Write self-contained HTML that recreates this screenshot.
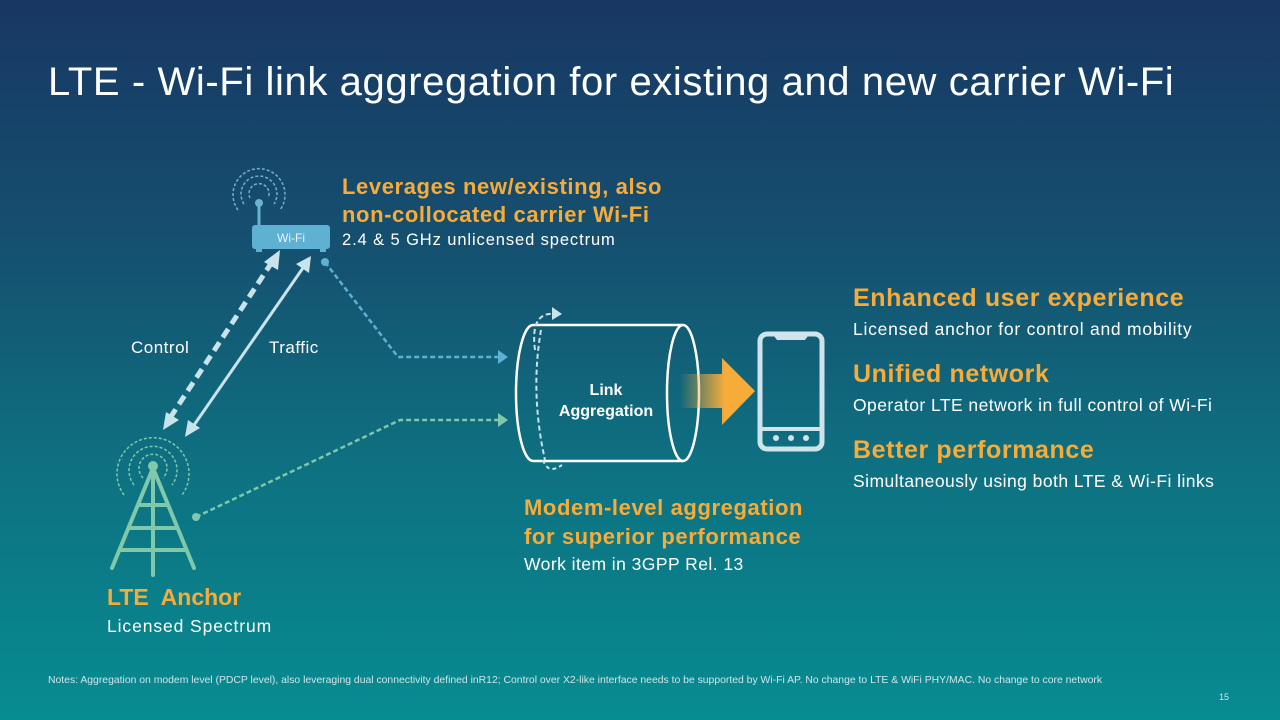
<!DOCTYPE html>
<html><head><meta charset="utf-8"><style>
html,body{margin:0;padding:0}
body{width:1280px;height:720px;overflow:hidden;background:linear-gradient(180deg,#183763 0%,#155170 35%,#0e7181 65%,#078c91 100%);font-family:"Liberation Sans",sans-serif;color:#fff;position:relative}
.t{position:absolute;white-space:nowrap}
.h{color:#f7ac3a;font-weight:bold}
.s{font-size:17.5px;letter-spacing:0.45px}
</style></head><body>
<div class="t" style="left:48px;top:60px;font-size:40px;letter-spacing:0.6px">LTE - Wi-Fi link aggregation for existing and new carrier Wi-Fi</div>

<div class="t h" style="left:342px;top:173px;font-size:22px;line-height:28px;letter-spacing:0.6px">Leverages new/existing, also<br>non-collocated carrier Wi-Fi</div>
<div class="t" style="left:342px;top:231px;font-size:16.5px;letter-spacing:0.9px">2.4 &amp; 5 GHz unlicensed spectrum</div>

<div class="t" style="left:131px;top:338px;font-size:17px;letter-spacing:0.5px">Control</div>
<div class="t" style="left:269px;top:338px;font-size:17px;letter-spacing:0.5px">Traffic</div>

<div class="t h" style="left:107px;top:584px;font-size:23px">LTE&nbsp; Anchor</div>
<div class="t s" style="left:107px;top:616px;letter-spacing:0.9px">Licensed Spectrum</div>

<div class="t h" style="left:524px;top:493px;font-size:22px;line-height:29px;letter-spacing:0.6px">Modem-level aggregation<br>for superior performance</div>
<div class="t s" style="left:524px;top:554px">Work item in 3GPP Rel. 13</div>

<div class="t h" style="left:853px;top:284px;font-size:25px;letter-spacing:0.6px">Enhanced user experience</div>
<div class="t s" style="left:853px;top:319px;letter-spacing:0.75px">Licensed anchor for control and mobility</div>
<div class="t h" style="left:853px;top:360px;font-size:25px;letter-spacing:0.6px">Unified network</div>
<div class="t s" style="left:853px;top:395px">Operator LTE network in full control of Wi-Fi</div>
<div class="t h" style="left:853px;top:436px;font-size:25px;letter-spacing:0.6px">Better performance</div>
<div class="t s" style="left:853px;top:471px">Simultaneously using both LTE &amp; Wi-Fi links</div>

<div class="t" style="left:48px;top:675px;font-size:10.4px;color:#cfe6e8">Notes: Aggregation on modem level (PDCP level), also leveraging dual connectivity defined inR12; Control over X2-like interface needs to be supported by Wi-Fi AP. No change to LTE &amp; WiFi PHY/MAC. No change to core network</div>
<div class="t" style="left:1219px;top:692px;font-size:9px;color:#cfe6e8">15</div>

<svg width="1280" height="720" style="position:absolute;left:0;top:0" xmlns="http://www.w3.org/2000/svg">
<defs>
<linearGradient id="og" x1="0" x2="1"><stop offset="0" stop-color="#f7ac3a" stop-opacity="0"/><stop offset="0.6" stop-color="#f7ac3a"/><stop offset="1" stop-color="#f7ac3a"/></linearGradient>
</defs>
<g fill="none" stroke="#6ab4d3" stroke-width="1.5" stroke-dasharray="3,2">
<path d="M250 198 A10 10 0 1 1 268 198"/>
<path d="M244 204 A18 18 0 1 1 274 204"/>
<path d="M238 210 A26 26 0 1 1 280 210"/>
</g>
<line x1="259" y1="204" x2="259" y2="226" stroke="#6ab4d3" stroke-width="3"/>
<circle cx="259" cy="203" r="4" fill="#6ab4d3"/>
<rect x="252" y="225" width="78" height="24" rx="3" fill="#5eb1d2"/>
<rect x="256" y="247" width="6" height="5" fill="#5eb1d2"/><rect x="320" y="247" width="6" height="5" fill="#5eb1d2"/>
<text x="291" y="242" font-size="12" fill="#e8f5fa" text-anchor="middle" font-family="Liberation Sans">Wi-Fi</text>
<g fill="none" stroke="#7fc9aa" stroke-width="1.5" stroke-dasharray="3,2">
<path d="M143 478 A14 14 0 1 1 163 478"/>
<path d="M134 485 A24 24 0 1 1 172 485"/>
<path d="M124 495 A36 36 0 1 1 182 495"/>
</g>
<g stroke="#7fc9aa" stroke-width="4" fill="none" stroke-linecap="round">
<line x1="153" y1="468" x2="153" y2="575"/>
<line x1="153" y1="468" x2="112" y2="568"/>
<line x1="153" y1="468" x2="194" y2="568"/>
<line x1="139" y1="505" x2="167" y2="505"/>
<line x1="130" y1="528" x2="176" y2="528"/>
<line x1="120" y1="550" x2="186" y2="550"/>
</g>
<circle cx="153" cy="466" r="5" fill="#7fc9aa"/>
<g stroke="#c9e3ea" fill="#c9e3ea">
<line x1="272" y1="262" x2="170" y2="418" stroke-width="5" stroke-dasharray="10,6"/>
<polygon points="280,250 264,262 278,270" stroke="none"/>
<polygon points="163,430 166,412 179,420" stroke="none"/>
<line x1="305" y1="265" x2="192" y2="428" stroke-width="3"/>
<polygon points="311,256 296,264 309,273" stroke="none"/>
<polygon points="185,437 188,420 200,428" stroke="none"/>
</g>
<circle cx="325" cy="262" r="4" fill="#5eb1d2"/>
<polyline points="325,262 398,357 500,357" fill="none" stroke="#5eb1d2" stroke-width="2.5" stroke-dasharray="5,3"/>
<polygon points="498,350 508,357 498,364" fill="#5eb1d2"/>
<circle cx="196" cy="517" r="4" fill="#7fc9aa"/>
<polyline points="196,517 400,420 500,420" fill="none" stroke="#7fc9aa" stroke-width="2.5" stroke-dasharray="5,3"/>
<polygon points="498,413 508,420 498,427" fill="#7fc9aa"/>
<g fill="none" stroke="#fff" stroke-width="2.5">
<path d="M533 325 L683 325 M533 461 L683 461"/>
<path d="M533 325 A17 68 0 0 0 533 461"/>
<ellipse cx="683" cy="393" rx="16" ry="68"/>
</g>
<path d="M541 330 Q530 393 545 460" fill="none" stroke="#c9e3ea" stroke-width="2" stroke-dasharray="5,3"/>
<path d="M535 350 Q530 312 554 314" fill="none" stroke="#c9e3ea" stroke-width="2" stroke-dasharray="5,3"/>
<polygon points="552,307 562,314 552,320" fill="#c9e3ea"/>
<path d="M543 460 Q548 475 562 465" fill="none" stroke="#c9e3ea" stroke-width="2" stroke-dasharray="4,3"/>
<text x="606" y="395" font-size="16" font-weight="bold" fill="#fff" text-anchor="middle" font-family="Liberation Sans">Link</text>
<text x="606" y="416" font-size="16" font-weight="bold" fill="#fff" text-anchor="middle" font-family="Liberation Sans">Aggregation</text>
<polygon points="680,374 722,374 722,358 755,391 722,425 722,408 680,408" fill="url(#og)"/>
<rect x="760" y="334" width="62" height="115" rx="7" fill="none" stroke="#cfe3ea" stroke-width="5"/>
<line x1="760" y1="429" x2="822" y2="429" stroke="#cfe3ea" stroke-width="4"/>
<path d="M774 336 L808 336 L805 340 L777 340 Z" fill="#cfe3ea"/>
<circle cx="776" cy="438" r="3" fill="#cfe3ea"/><circle cx="791" cy="438" r="3" fill="#cfe3ea"/><circle cx="806" cy="438" r="3" fill="#cfe3ea"/>
</svg>
</body></html>
